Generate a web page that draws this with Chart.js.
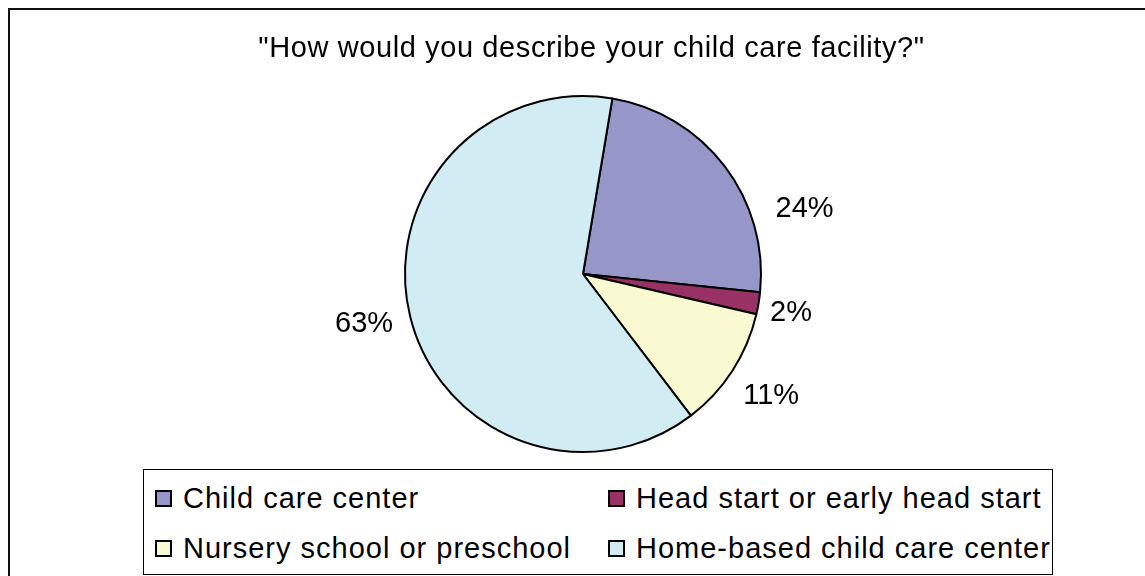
<!DOCTYPE html>
<html>
<head>
<meta charset="utf-8">
<title>Child care facility</title>
<script src="https://cdn.jsdelivr.net/npm/chart.js@4.4.1/dist/chart.umd.min.js"></script>
<style>
    body { margin: 0; background: #fff; font-family: "Liberation Sans", Arial, sans-serif; overflow: hidden; }
    #page { position: relative; width: 1145px; height: 576px; overflow: hidden; }
    #frame { position: absolute; left: 8px; top: 8px; width: 1170px; height: 600px; border: 2px solid #111; }
    #chart { position: absolute; left: 0; top: 0; }
    #title { position: absolute; left: 0; top: 30px; width: 1183px; text-align: center; font-size: 29px; line-height: 34px; letter-spacing: 0.6px; color: #000; }
    #legend { position: absolute; left: 143px; top: 469px; width: 908px; height: 104px; border: 1px solid #000; background: #fff; }
    .item { position: absolute; display: flex; align-items: center; font-size: 29px; line-height: 34px; letter-spacing: 1px; white-space: nowrap; }
    .swatch { width: 13px; height: 13px; border: 2px solid #000; margin-right: 11px; }
</style>
</head>
<body>
<div id="page">
<div id="frame"></div>
<canvas id="chart" width="1145" height="576"></canvas>
<div id="title"></div>
<div id="legend"></div>
</div>
<script>
// Chart data
const chartTitle = '"How would you describe your child care facility?"';
const categories = ['Child care center', 'Head start or early head start', 'Nursery school or preschool', 'Home-based child care center'];
const shares = [24, 2, 11, 63];
const sliceColors = ['#9796c9', '#983264', '#fafad2', '#d1ecf2'];

// small nudges so the labels sit where the original put them
const labelShift = [
    { angle: 21, extra: 8 },
    { angle: 1, extra: -3 },
    { angle: 0, extra: 3 },
    { angle: 1, extra: 2 }
];

document.getElementById('title').textContent = chartTitle;

// Percent labels outside the slices
const outsideLabels = {
    id: 'outsideLabels',
    afterDatasetsDraw(chart) {
        const c = chart.ctx;
        const meta = chart.getDatasetMeta(0);
        c.save();
        c.font = '29px "Liberation Sans", Arial, sans-serif';
        c.fillStyle = '#000';
        c.textAlign = 'center';
        c.textBaseline = 'middle';
        meta.data.forEach((arc, i) => {
            const p = arc.getProps(['x', 'y', 'startAngle', 'endAngle', 'outerRadius'], true);
            const text = shares[i] + '%';
            const mid = (p.startAngle + p.endAngle) / 2 + labelShift[i].angle * Math.PI / 180;
            const w = c.measureText(text).width;
            const h = 21;
            const half = Math.abs(Math.cos(mid)) * w / 2 + Math.abs(Math.sin(mid)) * h / 2;
            const dist = p.outerRadius + 14 + half + labelShift[i].extra;
            c.fillText(text, p.x + Math.cos(mid) * dist, p.y + Math.sin(mid) * dist);
        });
        c.restore();
    }
};

const ctx = document.getElementById('chart').getContext('2d');
new Chart(ctx, {
    type: 'pie',
    data: {
        labels: categories,
        datasets: [{
            data: shares,
            backgroundColor: sliceColors,
            borderColor: '#000',
            borderWidth: 2
        }]
    },
    options: {
        responsive: false,
        animation: false,
        devicePixelRatio: 1,
        events: [],
        rotation: 9.5,
        radius: 178,
        layout: { padding: { top: 95, bottom: 123, left: 21, right: 0 } },
        plugins: { legend: { display: false }, tooltip: { enabled: false } }
    },
    plugins: [outsideLabels]
});

// Legend, two columns
const legend = document.getElementById('legend');
categories.forEach((name, i) => {
    const div = document.createElement('div');
    div.className = 'item';
    div.style.left = (i % 2 === 0 ? 11 : 464) + 'px';
    div.style.top = (Math.floor(i / 2) * 50 + 11) + 'px';
    div.innerHTML = `<span class="swatch" style="background:${sliceColors[i]}"></span><span>${name}</span>`;
    legend.appendChild(div);
});
</script>
</body>
</html>
